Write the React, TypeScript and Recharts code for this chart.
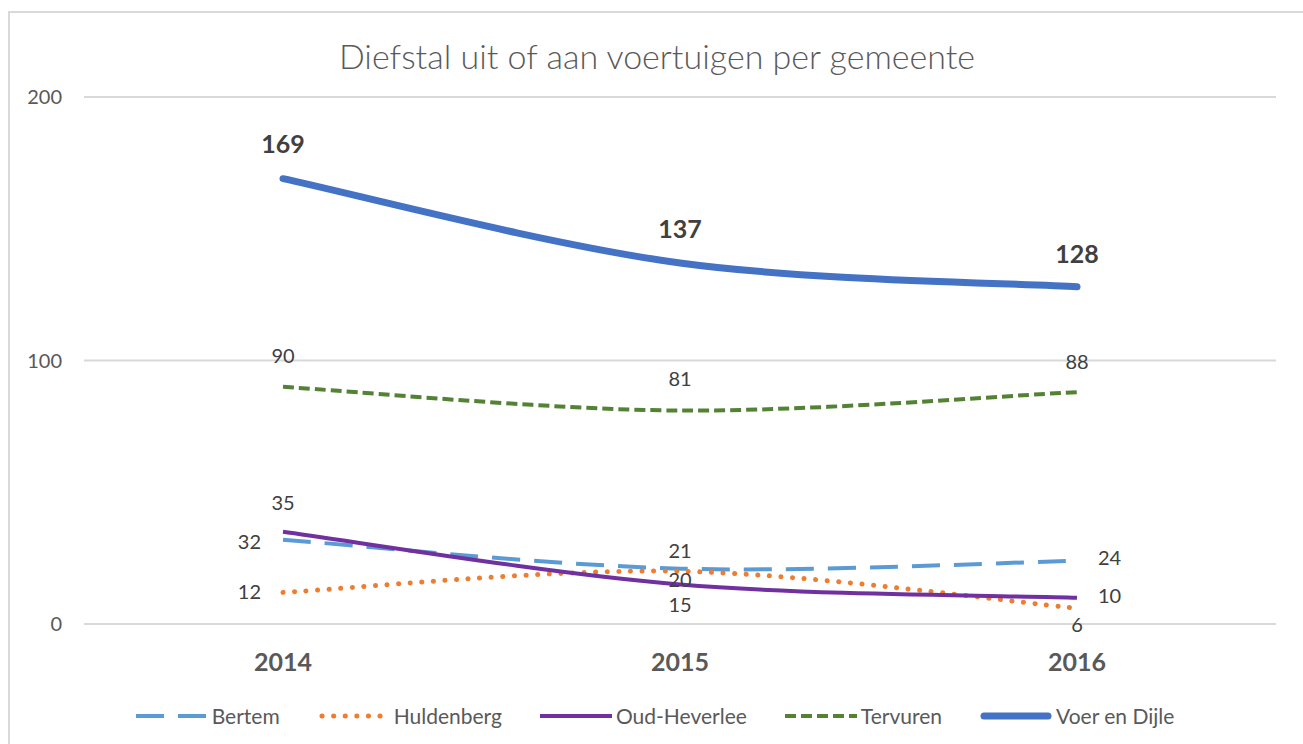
import { JSX } from 'react'
import { LineChart, Line, XAxis, YAxis, CartesianGrid, Legend, LabelList } from 'recharts'

// categorieën en reeksen (aantal feiten per jaar)
const jaren = ['2014', '2015', '2016']
const bertem = [32, 21, 24]
const huldenberg = [12, 20, 6]
const oudHeverlee = [35, 15, 10]
const tervuren = [90, 81, 88]
const voerEnDijle = [169, 137, 128]
const yTicks = [0, 100, 200]

const data = jaren.map((jaar, i) => ({
  jaar,
  bertem: bertem[i],
  huldenberg: huldenberg[i],
  oudHeverlee: oudHeverlee[i],
  tervuren: tervuren[i],
  voerEnDijle: voerEnDijle[i]
}))

type Plaats = [number, number, 'start' | 'middle' | 'end']

// stijl per reeks + plaats van de datalabels
const reeksen: {
  key: string
  naam: string
  kleur: string
  dikte: number
  streep?: string
  cap?: 'round' | 'butt'
  vet?: boolean
  labels: Plaats[]
}[] = [
  {
    key: 'bertem',
    naam: 'Bertem',
    kleur: '#5B9BD5',
    dikte: 4,
    streep: '28 14',
    labels: [[-22, 1, 'end'], [0, -19, 'middle'], [21, -4, 'start']]
  },
  {
    key: 'huldenberg',
    naam: 'Huldenberg',
    kleur: '#ED7D31',
    dikte: 5,
    streep: '0.1 11.5',
    cap: 'round',
    labels: [[-22, -1, 'end'], [0, 8, 'middle'], [0, 16, 'middle']]
  },
  {
    key: 'oudHeverlee',
    naam: 'Oud-Heverlee',
    kleur: '#7030A0',
    dikte: 4,
    labels: [[0, -30, 'middle'], [0, 20, 'middle'], [21, -3, 'start']]
  },
  {
    key: 'tervuren',
    naam: 'Tervuren',
    kleur: '#548235',
    dikte: 4,
    streep: '11 5',
    labels: [[0, -32, 'middle'], [0, -33, 'middle'], [0, -31, 'middle']]
  },
  {
    key: 'voerEnDijle',
    naam: 'Voer en Dijle',
    kleur: '#4472C4',
    dikte: 7,
    cap: 'round',
    vet: true,
    labels: [[0, -36, 'middle'], [0, -35, 'middle'], [0, -34, 'middle']]
  }
]

const FONT = 'Lato, "Open Sans", sans-serif'

// zachte lijn zoals Excel (Catmull-Rom), als curve factory voor recharts
function excelCurve(context: any) {
  let pts: [number, number][] = []
  return {
    areaStart() {},
    areaEnd() {},
    lineStart() {
      pts = []
    },
    point(x: number, y: number) {
      pts.push([+x, +y])
    },
    lineEnd() {
      if (!pts.length) return
      context.moveTo(pts[0][0], pts[0][1])
      for (let i = 0; i < pts.length - 1; i++) {
        const p0 = pts[i - 1] ?? pts[i]
        const p1 = pts[i]
        const p2 = pts[i + 1]
        const p3 = pts[i + 2] ?? pts[i + 1]
        context.bezierCurveTo(
          p1[0] + (p2[0] - p0[0]) / 6,
          p1[1] + (p2[1] - p0[1]) / 6,
          p2[0] - (p3[0] - p1[0]) / 6,
          p2[1] - (p3[1] - p1[1]) / 6,
          p2[0],
          p2[1]
        )
      }
    }
  }
}

function maakLabel(labels: Plaats[], vet?: boolean) {
  return function DataLabel(props: any): JSX.Element | null {
    const x = props.x ?? props.viewBox?.x
    const y = props.y ?? props.viewBox?.y
    const plaats = labels[props.index]
    if (x == null || y == null || !plaats) return null
    return (
      <text
        x={x + plaats[0]}
        y={y + plaats[1]}
        textAnchor={plaats[2]}
        dominantBaseline="central"
        fill="#404040"
        fontFamily={FONT}
        fontSize={vet ? 25 : 20}
        fontWeight={vet ? 700 : 400}
      >
        {props.value}
      </text>
    )
  }
}

function Legenda(): JSX.Element {
  return (
    <div
      style={{
        display: 'flex',
        justifyContent: 'center',
        alignItems: 'center',
        gap: 38,
        fontFamily: FONT,
        fontSize: 21,
        color: '#595959'
      }}
    >
      {reeksen.map((r) => (
        <div key={r.key} style={{ display: 'flex', alignItems: 'center' }}>
          <svg width={72} height={12}>
            <line
              x1={r.cap === 'round' ? 4 : 0}
              x2={r.cap === 'round' ? 68 : 72}
              y1={6}
              y2={6}
              stroke={r.kleur}
              strokeWidth={r.dikte}
              strokeDasharray={r.streep}
              strokeLinecap={r.cap ?? 'butt'}
            />
          </svg>
          <span style={{ marginLeft: 4 }}>{r.naam}</span>
        </div>
      ))}
    </div>
  )
}

export default function App(): JSX.Element {
  return (
    <div style={{ position: 'fixed', left: 0, top: 0, width: 1303, height: 744, background: '#fff' }}>
      <div
        style={{
          position: 'fixed',
          left: 8,
          top: 11,
          width: 1330,
          height: 780,
          border: '2px solid #D9D9D9'
        }}
      />
      <div
        style={{
          position: 'absolute',
          left: 0,
          top: 36,
          width: 1314,
          textAlign: 'center',
          fontFamily: FONT,
          fontWeight: 300,
          fontSize: 34,
          color: '#595959',
          lineHeight: '40px'
        }}
      >
        Diefstal uit of aan voertuigen per gemeente
      </div>
      <div style={{ position: 'absolute', left: 0, top: 0 }}>
        <LineChart width={1303} height={744} data={data} margin={{ top: 97, right: 27, left: 0, bottom: 60 }}>
          <CartesianGrid vertical={false} stroke="#D9D9D9" strokeWidth={2} />
          <XAxis
            dataKey="jaar"
            axisLine={false}
            tickLine={false}
            tickSize={0}
            tickMargin={29}
            height={60}
            padding={{ left: 199, right: 199 }}
            tick={{ fill: '#595959', fontSize: 25, fontWeight: 700, fontFamily: FONT }}
          />
          <YAxis
            domain={[0, 200]}
            ticks={yTicks}
            axisLine={false}
            tickLine={false}
            tickSize={0}
            tickMargin={22}
            width={84}
            tick={{ fill: '#595959', fontSize: 20, fontFamily: FONT }}
          />
          <Legend
            layout="horizontal"
            verticalAlign="middle"
            wrapperStyle={{ top: 703, left: 0, width: 1310 }}
            content={() => <Legenda />}
          />
          {reeksen.map((r) => (
            <Line
              key={r.key}
              type={excelCurve as any}
              dataKey={r.key}
              name={r.naam}
              stroke={r.kleur}
              strokeWidth={r.dikte}
              strokeDasharray={r.streep}
              strokeLinecap={r.cap ?? 'butt'}
              dot={false}
              activeDot={false}
              isAnimationActive={false}
            >
              <LabelList dataKey={r.key} content={maakLabel(r.labels, r.vet)} />
            </Line>
          ))}
        </LineChart>
      </div>
    </div>
  )
}
